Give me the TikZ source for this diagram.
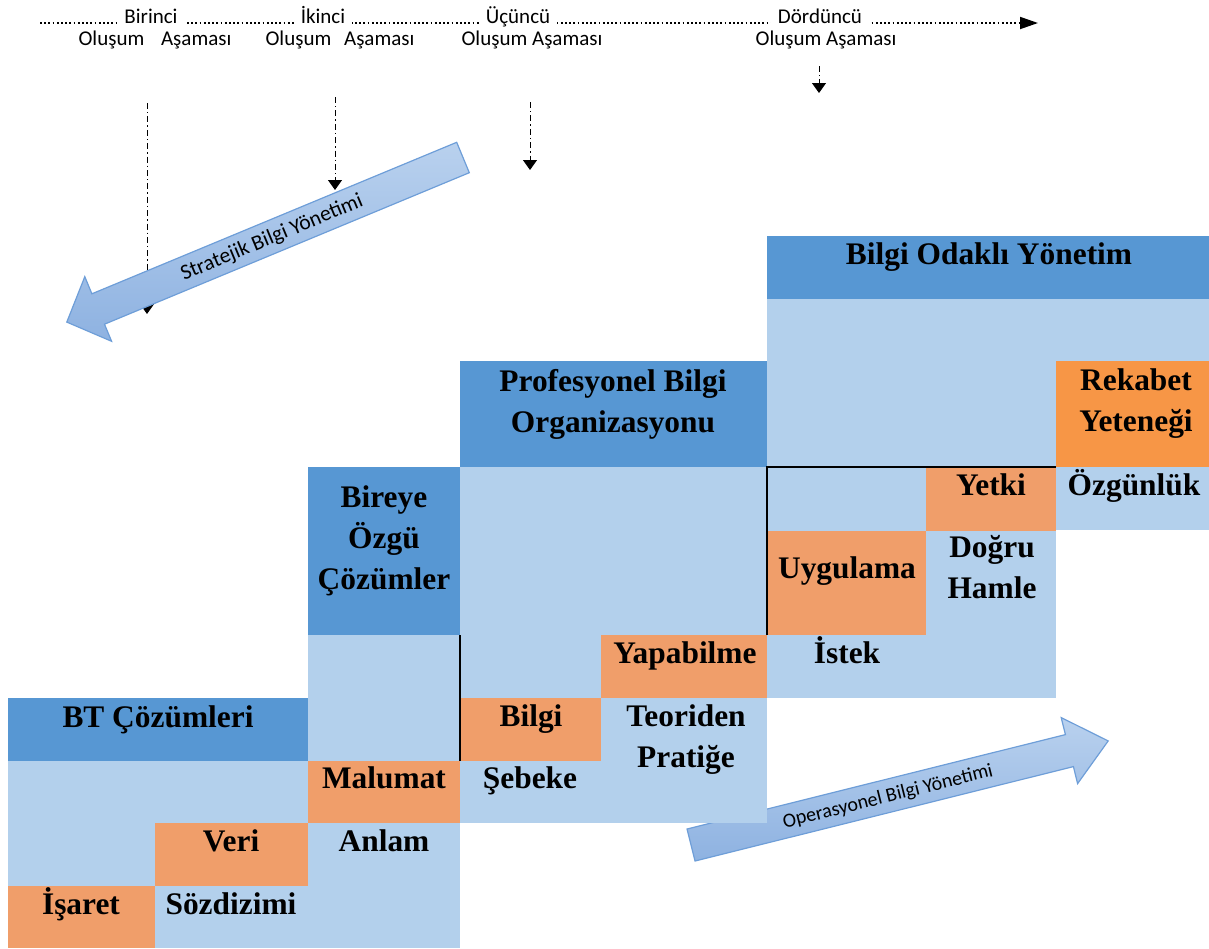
\documentclass[tikz,border=0pt]{standalone}
\usepackage{fontspec}
\setmainfont{Liberation Serif}
\newfontfamily\calibri{Carlito}
\usetikzlibrary{arrows.meta}
\definecolor{koyumavi}{HTML}{5797D3}
\definecolor{acikmavi}{HTML}{B3D0EC}
\definecolor{turuncu}{HTML}{F09E6A}
\definecolor{rekturuncu}{HTML}{F79646}
\definecolor{okacik}{HTML}{B9D1EE}
\definecolor{okkoyu}{HTML}{8EB2E1}
\definecolor{okkenar}{HTML}{6E9ED8}

\begin{document}
\begin{tikzpicture}[x=0.5pt, y=-0.5pt,
  etiket/.style={font=\fontsize{15.7}{20.5}\selectfont\bfseries, align=center, inner sep=0pt, anchor=base},
  asama/.style={font=\calibri\fontsize{10.5}{12}\selectfont, inner sep=0pt, anchor=base},
  noktali/.style={line width=0.9pt, dash pattern=on 0.9pt off 1.2pt},
  kesik/.style={line width=0.5pt, dash pattern=on 3pt off 1.5pt on 0.7pt off 1.5pt, -{Triangle[width=7pt,length=5pt]}},
  buyukok/.style={draw=okkenar, line width=0.6pt, top color=okacik, bottom color=okkoyu},
  oketiket/.style={font=\calibri\fontsize{10.8}{12}\selectfont, inner sep=0pt}]
\useasboundingbox (0,0) rectangle (1209,948);

% Oluşum aşamaları ekseni
\coordinate (eksenbas) at (40,23);
\coordinate (eksenson) at (1038,23);
\draw[noktali, -{Triangle[width=6pt,length=9pt]}] (eksenbas) -- (eksenson);
\node[asama, fill=white, inner xsep=3.5pt, inner ysep=1pt] (birinci) at (151,23) {Birinci};
\node[asama, fill=white, inner xsep=3.5pt, inner ysep=1pt] (ikinci) at (323,23) {İkinci};
\node[asama, fill=white, inner xsep=3.5pt, inner ysep=1pt] (ucuncu) at (518,23) {Üçüncü};
\node[asama, fill=white, inner xsep=3.5pt, inner ysep=1pt] (dorduncu) at (820,23) {Dördüncü};
\node[asama] (olus1) at (155,45) {Oluşum\hspace{6pt} Aşaması};
\node[asama] (olus2) at (340,45) {Oluşum\hspace{4pt} Aşaması};
\node[asama] (olus3) at (532,45) {Oluşum Aşaması};
\node[asama] (olus4) at (826,45) {Oluşum Aşaması};

% Aşamalardan inen kesikli oklar
\foreach \x/\ya/\yb [count=\i] in {147/103/314, 335/97/190, 530/102/170, 819/66/93} {
  \coordinate (ust\i) at (\x,\ya);
  \coordinate (alt\i) at (\x,\yb);
  \draw[kesik] (ust\i) -- (alt\i);
}

% Stratejik Bilgi Yönetimi oku
\path[buyukok] (456.7,142.3) -- (469.3,172.7) -- (104.5,324.2) -- (111.6,341.3)
  -- (66.8,322.1) -- (84.8,276.7) -- (91.9,293.8) -- cycle;
\node[oketiket, rotate=22.6] (stratejik) at (272,238) {Stratejik Bilgi Yönetimi};

% Operasyonel Bilgi Yönetimi oku
\path[buyukok] (687,829) -- (1065.4,734.6) -- (1061.2,717.6) -- (1108.2,740.9)
  -- (1077.6,783.6) -- (1073.4,766.6) -- (695,861) -- cycle;
\node[oketiket, font=\calibri\fontsize{10}{12}\selectfont, rotate=14] (operasyonel) at (888,797) {Operasyonel Bilgi Yönetimi};

% Açık mavi zeminler
\fill[acikmavi] (8,761) rectangle (308,886);
\fill[acikmavi] (308,635) rectangle (460,948);
\fill[acikmavi] (155,886) rectangle (460,948);
\fill[acikmavi] (460,467) rectangle (767,823);
\fill[acikmavi] (767,299) rectangle (1209,467);
\fill[acikmavi] (767,467) rectangle (1056,698);
\fill[acikmavi] (1056,467) rectangle (1209,530);

% Koyu mavi başlıklar
\fill[koyumavi] (8,698) rectangle (308,761);
\fill[koyumavi] (308,467) rectangle (460,635);
\fill[koyumavi] (460,361) rectangle (767,467);
\fill[koyumavi] (767,236) rectangle (1209,299);

% Turuncu basamaklar
\fill[turuncu] (8,886) rectangle (155,948);
\fill[turuncu] (155,823) rectangle (308,886);
\fill[turuncu] (308,761) rectangle (460,823);
\fill[turuncu] (460,698) rectangle (601,761);
\fill[turuncu] (601,635) rectangle (767,698);
\fill[turuncu] (767,531) rectangle (926,635);
\fill[turuncu] (926,467) rectangle (1056,531);
\fill[rekturuncu] (1056,361) rectangle (1209,467);

% Siyah ayrım çizgileri
\draw[line width=1pt] (460,635) -- (460,761);
\draw[line width=1pt] (1056,467) -- (767,467) -- (767,635);

% Birinci aşama
\node[etiket] (bt) at (158,727) {BT Çözümleri};
\node[etiket] (isaret) at (81,914) {İşaret};
\node[etiket] (sozdizimi) at (231,914) {Sözdizimi};
\node[etiket] (veri) at (231,851) {Veri};

% İkinci aşama
\node[etiket] (bireye) at (384,589) {Bireye\\Özgü\\Çözümler};
\node[etiket] (malumat) at (384,788) {Malumat};
\node[etiket] (anlam) at (384,851) {Anlam};

% Üçüncü aşama
\node[etiket] (profesyonel) at (613,432) {Profesyonel Bilgi\\Organizasyonu};
\node[etiket] (bilgi) at (531,726) {Bilgi};
\node[etiket] (sebeke) at (530,788) {Şebeke};
\node[etiket] (yapabilme) at (685,663) {Yapabilme};
\node[etiket] (teoriden) at (686,767) {Teoriden\\Pratiğe};

% Dördüncü aşama
\node[etiket] (odakli) at (989,264) {Bilgi Odaklı Yönetim};
\node[etiket] (rekabet) at (1136,431) {Rekabet\\Yeteneği};
\node[etiket] (ozgunluk) at (1134,495) {Özgünlük};
\node[etiket] (yetki) at (991,495) {Yetki};
\node[etiket] (uygulama) at (847,578) {Uygulama};
\node[etiket] (dogru) at (992,598) {Doğru\\Hamle};
\node[etiket] (istek) at (847,663) {İstek};
\end{tikzpicture}
\end{document}
